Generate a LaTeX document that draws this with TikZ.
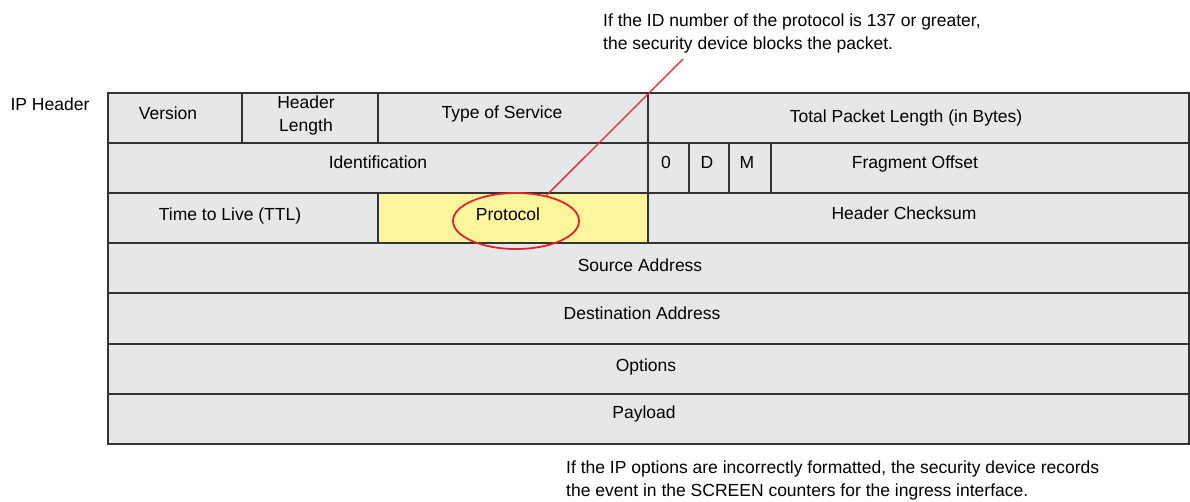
\documentclass[tikz,border=0pt]{standalone}
\usepackage{fontspec}
\setmainfont{Liberation Sans}
\usetikzlibrary{shapes.geometric}
\definecolor{cellgray}{HTML}{E6E7E8}
\definecolor{cellyellow}{HTML}{FFF59D}
\definecolor{lineclr}{HTML}{333333}
\definecolor{callred}{HTML}{E2252B}
\tikzset{
  cell/.style={draw=lineclr, line width=1.3pt, fill=cellgray, inner sep=0pt, outer sep=0pt},
  lbl/.style={font=\fontsize{17.5}{23}\selectfont, inner sep=0pt, align=center},
  note/.style={font=\fontsize{17.5}{23}\selectfont, inner sep=0pt, align=left, anchor=base west},
}
\begin{document}
\begin{tikzpicture}[x=1pt,y=-1pt]
\useasboundingbox (0,0) rectangle (1190,502);
% row 1
\node[cell, minimum width=134pt, minimum height=50pt] (ver) at (175,118) {};
\node[cell, minimum width=136pt, minimum height=50pt] (hl) at (310,118) {};
\node[cell, minimum width=270pt, minimum height=50pt] (tos) at (513,118) {};
\node[cell, minimum width=541pt, minimum height=50pt] (tpl) at (918.5,118) {};
% row 2
\node[cell, minimum width=540pt, minimum height=50pt] (ident) at (378,168) {};
\node[cell, minimum width=41pt, minimum height=50pt] (f0) at (668.5,168) {};
\node[cell, minimum width=40pt, minimum height=50pt] (fd) at (709,168) {};
\node[cell, minimum width=42pt, minimum height=50pt] (fm) at (750,168) {};
\node[cell, minimum width=418pt, minimum height=50pt] (fo) at (980,168) {};
% row 3
\node[cell, minimum width=270pt, minimum height=50pt] (ttl) at (243,218) {};
\node[cell, fill=cellyellow, minimum width=270pt, minimum height=50pt] (proto) at (513,218) {};
\node[cell, minimum width=541pt, minimum height=50pt] (hc) at (918.5,218) {};
% rows 4-7
\node[cell, minimum width=1081pt, minimum height=50pt] (src) at (648.5,268) {};
\node[cell, minimum width=1081pt, minimum height=51pt] (dst) at (648.5,318.5) {};
\node[cell, minimum width=1081pt, minimum height=50pt] (opt) at (648.5,369) {};
\node[cell, minimum width=1081pt, minimum height=50pt] (pay) at (648.5,419) {};
% labels
\node[lbl] (tver) at (168,113) {Version};
\node[lbl] (thl) at (306,115) {Header\\Length};
\node[lbl] (ttos) at (502,114) {Type of Service};
\node[lbl] (ttpl) at (906,118) {Total Packet Length (in Bytes)};
\node[lbl] (tident) at (378,162) {Identification};
\node[lbl] (tf0) at (666,162) {0};
\node[lbl] (tfd) at (707,162) {D};
\node[lbl] (tfm) at (747,162) {M};
\node[lbl] (tfo) at (915,164) {Fragment Offset};
\node[lbl] (tttl) at (230,216) {Time to Live (TTL)};
\node[lbl] (tproto) at (508,214) {Protocol};
\node[lbl] (thc) at (904,213) {Header Checksum};
\node[lbl] (tsrc) at (640,265) {Source Address};
\node[lbl] (tdst) at (642,313) {Destination Address};
\node[lbl] (topt) at (646,367) {Options};
\node[lbl] (tpay) at (644,414) {Payload};
\node[lbl] (iph) at (50,104) {IP Header};
% callouts
\node[note] (n1) at (603,50) {If the ID number of the protocol is 137 or greater,\\the security device blocks the packet.};
\node[note] (n2) at (566,496) {If the IP options are incorrectly formatted, the security device records\\the event in the SCREEN counters for the ingress interface.};
\node[draw=callred, line width=1.8pt, ellipse, minimum width=126pt, minimum height=56pt, inner sep=0pt] (ell) at (516,221) {};
\coordinate (c1) at (683,59);
\draw[callred, line width=1.3pt] (c1) -- (ell.40);
\end{tikzpicture}
\end{document}
